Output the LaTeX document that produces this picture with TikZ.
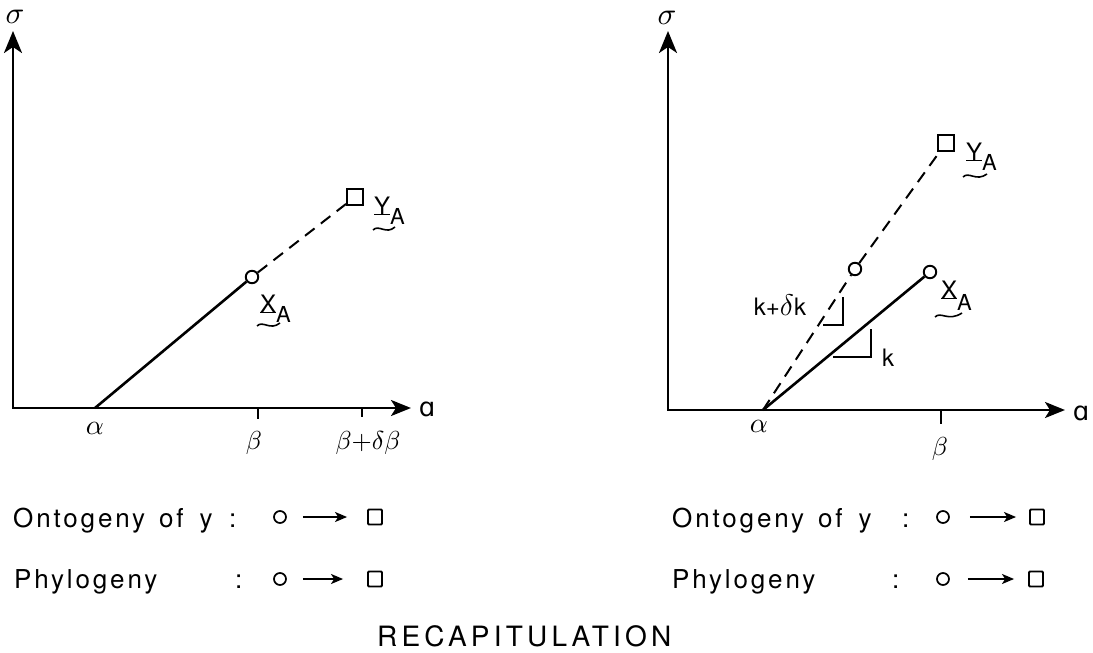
\documentclass[tikz,border=0pt]{standalone}
\usepackage{graphicx}
\usepackage{fontspec}
\setsansfont{TeX Gyre Heros}
\newfontfamily\capfont[LetterSpace=11]{TeX Gyre Heros}
\newfontfamily\titfont[LetterSpace=15]{TeX Gyre Heros}
\newfontfamily\djv{DejaVu Sans}
\usetikzlibrary{arrows.meta}
\newcommand\ulx[1]{\setbox0\hbox{#1}\rlap{\rule[-1.2pt]{\wd0}{1.6pt}}\box0}
\newcommand\gk[2]{\scalebox{#1}{$#2$}}
\begin{document}
\begin{tikzpicture}[x=1pt,y=-1pt,
  axis/.style={line width=2.6pt,{Stealth[length=22pt,width=18pt,inset=6pt]}-{Stealth[length=20pt,width=16pt,inset=5pt]}},
  curve/.style={line width=2.6pt},
  dashcurve/.style={line width=2pt,dash pattern=on 12pt off 8pt},
  ptc/.style={circle,draw,line width=1.9pt,minimum size=12.5pt,inner sep=0pt},
  ptsq/.style={rectangle,draw,line width=1.9pt,minimum size=16pt,inner sep=0pt},
  tickln/.style={line width=2pt},
  tri/.style={line width=2pt},
  greek/.style={inner sep=0pt},
  alab/.style={inner sep=0pt,font=\fontsize{26}{26}\selectfont\djv},
  vlab/.style={inner sep=0pt,anchor=base west,font=\fontsize{24}{24}\selectfont\sffamily},
  klab/.style={inner sep=0pt,font=\fontsize{24}{24}\selectfont\sffamily},
  tild/.style={line width=1.6pt},
  btext/.style={inner sep=0pt,anchor=base west,font=\fontsize{26}{26}\selectfont\capfont},
  bcirc/.style={circle,draw,line width=1.7pt,minimum size=12pt,inner sep=0pt},
  bsq/.style={rectangle,draw,line width=1.9pt,minimum width=14pt,minimum height=15pt,inner sep=0pt,rounded corners=1pt},
  barrow/.style={line width=1.8pt,-{Stealth[length=12pt,width=10pt,inset=3pt]}},
]
\useasboundingbox (0,0) rectangle (1093,653);

% ---------------- left panel ----------------
\coordinate (O1) at (13,408);
\coordinate (Yt1) at (13,31);
\coordinate (Xt1) at (411,408);
\draw[axis] (Yt1) -- (O1) -- (Xt1);
\node[greek] (sig1) at (15,17) {\gk{3.1}{\sigma}};
\node[alab] (aa1) at (427,409) {ɑ};
\coordinate (al1) at (95,408);
\node[greek] (alpha1) at (95,428) {\gk{2.8}{\alpha}};
\draw[tickln] (258,408) -- (258,419);
\draw[tickln] (362,408) -- (362,417);
\node[greek] (beta1) at (254,443) {\gk{2.6}{\beta}};
\node[greek] (bdb1) at (368,443) {\gk{2.6}{\beta{+}\delta\beta}};
\node[ptc] (xa1) at (252,277) {};
\node[ptsq] (ya1) at (355,197) {};
\draw[curve] (al1) -- (xa1);
\draw[dashcurve] (xa1) -- (ya1);
\node[vlab] (xl1) at (260,312) {\ulx{X}\raisebox{-10pt}{\fontsize{22}{22}\selectfont A}};
\draw[tild] (257,326) .. controls (263,320) and (270,331) .. (280,323);
\node[vlab] (yl1) at (374,214) {\ulx{Y}\raisebox{-10pt}{\fontsize{22}{22}\selectfont A}};
\draw[tild] (373,230) .. controls (379,224) and (386,235) .. (395,227);

% ---------------- right panel ----------------
\coordinate (O2) at (668,410);
\coordinate (Yt2) at (668,31);
\coordinate (Xt2) at (1065,410);
\draw[axis] (Yt2) -- (O2) -- (Xt2);
\node[greek] (sig2) at (667,18) {\gk{3.1}{\sigma}};
\node[alab] (aa2) at (1081,413) {ɑ};
\coordinate (al2) at (763,410);
\node[greek] (alpha2) at (759,426) {\gk{2.8}{\alpha}};
\draw[tickln] (941,410) -- (941,424);
\node[greek] (beta2) at (940,449) {\gk{2.6}{\beta}};
\node[ptc] (xa2) at (930,272) {};
\node[ptc] (mc2) at (855,269) {};
\node[ptsq] (ya2) at (946,143) {};
\draw[curve] (al2) -- (xa2);
\draw[dashcurve] (al2) -- (mc2);
\draw[dashcurve] (mc2) -- (ya2);
\draw[tri] (843,297) -- (843,325) -- (823,325);
\draw[tri] (871,329) -- (871,357) -- (833,357);
\node[klab] (kdk) at (780,305) {k+\gk{1.2}{\delta}k};
\node[klab] (k2) at (888,358) {k};
\node[vlab] (xl2) at (941,298) {\ulx{X}\raisebox{-12pt}{\fontsize{22}{22}\selectfont A}};
\draw[tild] (935,317) .. controls (941,311) and (948,322) .. (962,313);
\node[vlab] (yl2) at (966,160) {\ulx{Y}\raisebox{-10pt}{\fontsize{22}{22}\selectfont A}};
\draw[tild] (963,177) .. controls (969,171) and (976,182) .. (987,174);

% ---------------- bottom text ----------------
\node[btext] (on1) at (13,527) {Ontogeny\kern14pt of\kern16pt y};
\node[btext] (onc1) at (229,527) {:};
\node[bcirc] (oc1) at (280,517) {};
\node[bsq] (os1) at (375,517) {};
\draw[barrow,shorten <=16pt,shorten >=20pt] (oc1) -- (os1);

\node[btext] (ph1) at (14,588) {Phylogeny};
\node[btext] (phc1) at (235,588) {:};
\node[bcirc] (pc1) at (280,579) {};
\node[bsq] (ps1) at (375,579) {};
\draw[barrow,shorten <=16pt,shorten >=24pt] (pc1) -- (ps1);

\node[btext] (on2) at (672,527) {Ontogeny\kern14pt of\kern16pt y};
\node[btext] (onc2) at (902,527) {:};
\node[bcirc] (oc2) at (943,517) {};
\node[bsq] (os2) at (1037,517) {};
\draw[barrow,shorten <=20pt,shorten >=13pt] (oc2) -- (os2);

\node[btext] (ph2) at (672,588) {Phylogeny};
\node[btext] (phc2) at (892,588) {:};
\node[bcirc] (pc2) at (943,579) {};
\node[bsq] (ps2) at (1036,579) {};
\draw[barrow,shorten <=18pt,shorten >=14pt] (pc2) -- (ps2);

\node[btext,font=\fontsize{28}{28}\selectfont\titfont] (title) at (377,646) {RECAPITULATION};
\end{tikzpicture}
\end{document}
